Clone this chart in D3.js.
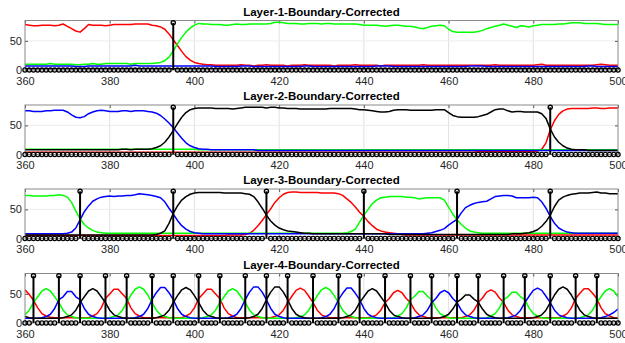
<!DOCTYPE html>
<html>
<head>
<meta charset="utf-8">
<script src="https://cdn.jsdelivr.net/npm/d3@7"></script>
<style>
  body { margin: 0; background: #fff; }
  svg { display: block; font-family: "Liberation Sans", Arial, Helvetica, sans-serif; }
</style>
</head>
<body>
<svg id="chart" width="625" height="343"></svg>
<script>
// sample positions 360..500, one value per step
const xFirst = 360;
const xLast = 500;
const xTicks = [360, 380, 400, 420, 440, 460, 480, 500];
const yTicks = [0, 50];
const yMax = 85;
const stemHeight = 81;
const titles = ['Layer-1-Boundary-Corrected', 'Layer-2-Boundary-Corrected',
                'Layer-3-Boundary-Corrected', 'Layer-4-Boundary-Corrected'];

// ---- layer 1 ----
const l1Red = [
  78,77,76,76,77,77,77,76,77,79, 75,71,67,65,71,78,77,77,77,76,
  77,78,78,78,78,78,79,79,79,79, 77,76,74,70,62,52,42,32,23,17,
  13,11,10,9,9,8,8,8,8,8, 8,9,8,8,7,8,8,9,8,8,
  8,8,7,8,8,8,9,8,8,8, 8,8,8,7,8,8,8,8,9,8,
  8,8,8,8,7,8,8,8,8,8, 8,8,8,8,9,8,8,8,8,8,
  8,8,8,8,8,8,8,8,8,8, 8,9,8,8,8,8,8,8,8,8,
  8,9,10,8,8,8,8,8,8,8, 8,8,8,8,8,9,10,9,8,8,
  8];
const l1Green = [
  10,10,10,10,10,10,11,10,10,10, 10,10,9,9,10,10,11,10,10,11,
  11,11,11,11,11,10,11,11,11,11, 11,12,13,16,22,33,45,56,65,72,
  77,80,79,79,78,78,78,77,77,78, 79,78,78,79,79,79,79,79,80,82,
  82,81,80,80,80,79,79,80,80,80, 79,80,80,79,79,79,79,79,79,78,
  77,77,77,77,76,75,76,77,77,76, 75,75,74,72,71,73,75,76,77,76,
  70,66,65,65,65,65,65,66,68,71, 73,75,77,79,77,75,73,76,75,74,
  76,77,78,78,78,78,79,79,80,81, 81,81,80,80,80,80,79,78,78,78,
  78];
const l1Blue = [
  7,7,7,7,7,7,7,7,7,7, 7,7,6,6,6,7,7,7,7,7,
  7,7,7,7,7,7,8,7,7,7, 7,7,7,7,7,7,7,7,7,7,
  7,7,7,7,7,6,6,6,6,6, 6,7,7,7,6,6,6,6,6,6,
  6,6,6,6,6,6,7,7,6,6, 6,6,6,6,6,6,6,6,6,6,
  6,6,6,7,7,7,7,6,6,6, 6,6,6,6,6,6,6,6,6,6,
  6,6,6,6,6,7,7,7,7,6, 6,6,6,6,6,6,6,6,6,6,
  6,6,6,6,6,6,6,6,6,6, 6,6,6,7,7,6,6,6,6,6,
  6];
const l1Black = [
  2,2,2,2,2,2,2,2,2,2, 2,2,2,2,2,2,2,2,2,2,
  2,2,2,2,2,2,2,2,2,2, 2,2,2,2,2,2,2,2,2,2,
  2,2,2,2,2,2,2,2,2,2, 2,2,2,2,2,2,2,2,2,2,
  2,2,2,2,2,2,2,2,2,2, 2,2,2,2,2,2,2,2,2,2,
  2,2,2,2,2,2,2,2,2,2, 2,2,2,2,2,2,2,2,2,2,
  2,2,2,2,2,2,2,2,2,2, 2,2,2,2,2,2,2,2,2,2,
  2,2,2,2,2,2,2,2,2,2, 2,2,2,2,2,2,2,2,2,2,
  2];
const l1Bounds = [395];

// ---- layer 2 ----
const l2Red = [
  4,4,4,4,4,4,4,4,4,4, 4,4,4,4,4,4,4,4,4,4,
  4,4,4,4,4,4,4,4,4,4, 4,4,4,4,4,4,4,4,4,4,
  4,4,4,4,4,4,4,4,4,4, 4,4,4,4,4,4,4,4,4,4,
  4,4,4,4,4,4,4,4,4,4, 4,4,4,4,4,4,4,4,4,4,
  4,4,4,4,4,4,4,4,4,4, 4,4,4,4,4,4,4,4,4,4,
  4,4,4,4,4,4,4,5,5,5, 5,5,5,5,5,5,5,5,5,5,
  5,6,9,20,42,58,69,75,78,79, 79,79,79,79,80,80,79,79,80,80,
  80];
const l2Green = [
  9,9,9,9,9,9,9,9,9,9, 9,9,9,9,9,9,9,9,9,9,
  9,9,9,9,9,9,9,9,9,9, 9,9,9,9,9,9,9,9,9,9,
  9,8,8,8,8,8,8,8,8,8, 8,8,8,8,8,8,8,8,8,8,
  8,8,8,8,8,8,8,8,8,8, 8,8,8,8,8,8,8,8,8,8,
  8,8,8,8,8,8,8,8,8,8, 8,8,8,8,8,8,8,8,8,8,
  8,8,8,8,8,8,8,8,8,8, 8,8,8,8,8,8,8,8,8,8,
  8,8,8,8,8,8,8,8,8,8, 8,8,8,8,8,8,8,8,8,8,
  8];
const l2Blue = [
  75,75,74,74,74,75,75,76,76,76, 73,68,64,63,65,70,73,75,76,75,
  74,74,74,75,75,74,75,75,75,74, 73,71,67,61,54,46,37,28,20,15,
  12,10,9,9,8,8,8,8,8,8, 8,8,8,8,8,7,7,7,7,7,
  7,7,7,7,7,7,7,7,7,7, 7,7,7,7,7,7,7,7,7,7,
  7,7,7,7,7,7,7,7,7,7, 7,7,7,7,7,7,7,7,7,7,
  7,7,7,7,7,7,7,7,7,7, 7,7,7,7,7,7,7,7,7,7,
  7,7,7,7,7,7,7,7,7,7, 7,7,7,7,7,7,7,7,7,7,
  7];
const l2Black = [
  8,8,8,8,8,8,8,8,8,8, 8,8,8,8,8,8,8,8,8,8,
  8,8,8,9,9,8,9,9,9,9, 10,12,15,21,30,41,53,64,72,77,
  79,80,80,80,80,79,79,79,79,78, 79,80,81,81,81,81,81,80,81,81,
  80,80,79,79,79,78,78,78,78,78, 78,78,79,79,79,79,79,79,78,77,
  77,76,75,74,73,73,74,76,77,77, 77,76,76,76,76,76,76,77,77,77,
  72,67,65,64,64,64,64,65,67,69, 73,77,78,78,75,73,74,74,73,73,
  73,73,70,62,44,30,21,15,11,9, 8,8,8,7,7,7,7,7,7,7,
  7];
const l2Bounds = [395, 484];

// ---- layer 3 ----
const l3Red = [
  5,5,5,5,5,5,5,5,5,5, 5,5,5,5,5,5,5,5,5,5,
  5,5,5,5,5,5,5,5,5,5, 5,5,5,5,5,5,5,5,5,5,
  5,5,5,5,5,5,5,5,6,6, 6,6,7,9,14,22,31,41,51,62,
  70,76,79,80,80,79,79,79,79,79, 78,78,78,78,77,74,68,62,54,45,
  38,29,22,16,13,11,10,9,8,7, 6,6,6,6,6,6,6,6,6,6,
  6,6,6,6,6,6,6,6,6,6, 6,6,6,6,6,6,6,6,6,6,
  6,6,6,6,6,6,6,6,6,6, 6,6,6,6,6,6,6,6,6,6,
  6];
const l3Green = [
  74,74,73,73,73,73,74,74,75,74, 71,62,47,34,24,18,14,11,10,9,
  9,9,9,9,9,9,9,9,9,9, 9,9,9,9,9,9,9,9,9,9,
  9,9,9,9,9,9,9,9,9,9, 9,9,9,9,9,9,9,9,9,9,
  9,9,9,9,9,9,9,9,9,9, 9,9,9,9,9,9,10,12,16,28,
  40,50,60,66,70,71,72,72,72,72, 71,71,70,68,69,70,70,70,70,66,
  54,42,32,24,18,13,11,10,9,9, 9,9,9,9,9,9,9,9,9,9,
  9,9,9,9,9,9,9,9,9,9, 9,9,9,9,9,9,9,9,9,9,
  9];
const l3Blue = [
  8,8,8,8,8,8,8,8,8,8, 9,11,18,32,46,56,64,68,71,72,
  73,72,73,73,74,74,75,77,76,75, 74,72,70,63,52,42,31,22,16,12,
  10,9,8,8,8,8,8,8,8,8, 8,8,8,8,8,8,8,8,8,8,
  8,8,8,8,8,8,8,8,8,8, 8,8,8,8,8,8,8,8,8,8,
  8,8,8,8,8,8,8,8,8,8, 8,8,8,8,8,9,10,12,14,17,
  23,28,33,44,53,57,60,62,63,64, 68,72,73,74,74,73,70,70,70,70,
  71,70,63,52,38,26,18,14,11,10, 9,9,9,9,9,9,9,9,9,9,
  9];
const l3Black = [
  6,6,6,6,6,6,6,6,6,6, 6,6,6,6,6,6,6,6,6,6,
  6,6,6,6,6,6,6,6,6,6, 6,7,9,13,26,43,56,66,72,76,
  78,79,79,79,79,79,79,78,78,78, 78,78,77,76,72,63,52,40,30,23,
  18,15,13,12,11,10,9,9,8,8, 8,8,8,8,8,8,8,8,8,8,
  8,8,8,8,8,8,7,7,7,7, 7,7,7,7,7,7,7,7,7,7,
  7,7,7,7,7,7,7,7,7,7, 7,7,7,7,7,8,8,8,9,10,
  12,15,21,29,40,55,66,71,74,76, 77,78,78,78,79,80,78,78,77,77,
  77];
const l3Bounds = [373, 395, 417, 440, 462, 484];

// ---- layer 4 ----
const l4Red = [
  57,49,39,26,16,12,10,9,9,9, 9,9,9,9,9,9,12,16,26,42,
  50,58,58,50,42,26,16,12,9,9, 9,9,9,9,9,9,9,9,12,16,
  26,42,50,58,58,50,42,26,16,12, 9,9,9,9,9,9,9,9,9,11,
  14,22,35,46,56,60,56,46,35,22, 14,11,9,9,9,9,9,9,9,9,
  9,9,11,14,22,35,42,52,56,52, 42,35,22,14,11,9,9,9,9,9,
  9,9,9,9,11,14,22,35,43,53, 57,53,43,35,22,14,11,9,9,9,
  9,9,9,9,9,9,9,12,16,26, 42,51,59,59,51,42,26,16,12,9,
  8];
const l4Green = [
  14,22,35,45,55,59,55,45,35,22, 14,11,9,8,8,8,8,8,8,8,
  9,11,14,22,35,48,58,62,58,48, 35,22,14,11,9,8,8,8,8,8,
  8,8,9,11,14,22,35,45,55,59, 55,45,35,22,14,11,9,8,8,8,
  8,8,8,8,9,11,14,22,35,47, 57,61,57,47,35,22,14,11,9,8,
  8,8,8,8,8,8,8,9,12,16, 26,40,46,54,54,46,40,26,16,12,
  9,8,8,8,8,8,8,8,8,9, 12,16,26,40,45,53,53,45,40,26,
  16,12,9,8,8,8,8,8,8,8, 8,9,11,14,22,35,45,55,59,55,
  45];
const l4Blue = [
  8,8,8,8,9,11,15,25,40,45, 54,54,45,40,25,15,11,9,8,8,
  8,8,8,8,8,8,9,11,15,25, 40,52,61,61,52,40,25,15,11,9,
  8,8,8,8,8,8,8,8,9,11, 15,25,40,53,62,62,53,40,25,15,
  11,9,8,8,8,8,8,8,8,8, 9,11,15,25,40,51,60,60,51,40,
  25,15,11,9,8,8,8,8,8,8, 8,8,9,11,14,22,35,42,52,56,
  52,42,35,22,14,11,9,8,8,8, 8,8,8,8,9,11,14,22,35,46,
  56,60,56,46,35,22,14,11,9,8, 8,8,8,8,8,8,9,11,14,18,
  24];
const l4Black = [
  11,9,8,8,8,8,8,8,8,9, 11,14,22,35,45,55,59,55,45,35,
  22,14,11,9,8,8,8,8,8,8, 8,9,11,14,22,35,47,57,61,57,
  47,35,22,14,11,9,8,8,8,8, 8,8,8,9,11,15,25,40,53,62,
  62,53,40,25,15,11,9,8,8,8, 8,8,8,8,8,9,11,14,22,35,
  45,55,59,55,45,35,22,14,11,9, 8,8,8,8,8,8,8,8,9,11,
  15,24,36,41,48,48,41,36,24,15, 11,9,8,8,8,8,8,8,8,8,
  9,11,14,22,35,48,58,62,58,48, 35,22,14,11,9,8,8,8,8,8,
  8];
const l4Bounds = [362, 368, 373, 379, 384, 390, 395, 401, 406, 412, 417, 422, 428,
                  434, 439, 445, 451, 456, 462, 467, 473, 478, 484, 490, 495];

const layers = [
  { title: titles[0], red: l1Red, green: l1Green, blue: l1Blue, black: l1Black, bounds: l1Bounds },
  { title: titles[1], red: l2Red, green: l2Green, blue: l2Blue, black: l2Black, bounds: l2Bounds },
  { title: titles[2], red: l3Red, green: l3Green, blue: l3Blue, black: l3Black, bounds: l3Bounds },
  { title: titles[3], red: l4Red, green: l4Green, blue: l4Blue, black: l4Black, bounds: l4Bounds }
];

const xs = d3.range(xFirst, xLast + 1);
const svg = d3.select('#chart');
const left = 25, right = 618, plotH = 49.5;
const tops = [20.5, 105, 189, 273.5];

const x = d3.scaleLinear().domain([xFirst, xLast]).range([left, right]);

layers.forEach((layer, k) => {
  const top = tops[k];
  const y = d3.scaleLinear().domain([0, yMax]).range([top + plotH, top]);
  const g = svg.append('g');

  g.append('clipPath').attr('id', 'clip' + k)
    .append('rect').attr('x', left).attr('y', top).attr('width', right - left).attr('height', plotH);

  // grid
  g.append('g').selectAll('line').data(xTicks.slice(1, -1)).join('line')
    .attr('x1', d => x(d)).attr('x2', d => x(d))
    .attr('y1', top).attr('y2', top + plotH)
    .attr('stroke', '#e2e2e2').attr('stroke-width', 1);
  g.append('g').selectAll('line').data(yTicks.filter(d => d > 0)).join('line')
    .attr('x1', left).attr('x2', right)
    .attr('y1', d => y(d)).attr('y2', d => y(d))
    .attr('stroke', '#ececec').attr('stroke-width', 1);

  // axes (ticks point inward)
  const bottomAxis = g.append('g').attr('transform', `translate(0,${top + plotH})`)
    .call(d3.axisBottom(x).tickValues(xTicks).tickSizeInner(-3).tickSizeOuter(0).tickPadding(7));
  const leftAxis = g.append('g').attr('transform', `translate(${left},0)`)
    .call(d3.axisLeft(y).tickValues(yTicks).tickSizeInner(-3).tickSizeOuter(0).tickPadding(3));
  const topAxis = g.append('g').attr('transform', `translate(0,${top})`)
    .call(d3.axisTop(x).tickValues(xTicks).tickSizeInner(-3).tickSizeOuter(0).tickFormat(''));
  const rightAxis = g.append('g').attr('transform', `translate(${right},0)`)
    .call(d3.axisRight(y).tickValues(yTicks).tickSizeInner(-3).tickSizeOuter(0).tickFormat(''));
  [bottomAxis, leftAxis, topAxis, rightAxis].forEach(a => {
    a.select('.domain').remove();
    a.selectAll('line').attr('stroke', '#555');
    a.selectAll('text').attr('fill', '#262626').style('font-size', '11px');
  });

  // lines
  const line = d3.line().x((d, i) => x(xs[i])).y(d => y(d));
  const lines = g.append('g').attr('clip-path', `url(#clip${k})`);
  [['#ff0000', layer.red], ['#00ff00', layer.green], ['#0000ff', layer.blue], ['#000000', layer.black]]
    .forEach(([c, vals]) => {
      lines.append('path').datum(vals)
        .attr('d', line).attr('fill', 'none')
        .attr('stroke', c).attr('stroke-width', 1.5).attr('stroke-linejoin', 'round');
    });

  // box
  g.append('rect').attr('x', left).attr('y', top).attr('width', right - left).attr('height', plotH)
    .attr('fill', 'none').attr('stroke', '#8a8a8a').attr('stroke-width', 1);

  // boundary stems
  const stems = xs.map(v => ({ x: v, v: layer.bounds.includes(v) ? stemHeight : 0 }));
  g.append('g').selectAll('line').data(stems.filter(d => d.v > 0)).join('line')
    .attr('x1', d => x(d.x)).attr('x2', d => x(d.x))
    .attr('y1', y(0)).attr('y2', d => y(d.v))
    .attr('stroke', '#000').attr('stroke-width', 2);
  g.append('g').selectAll('circle').data(stems).join('circle')
    .attr('cx', d => x(d.x)).attr('cy', d => y(d.v)).attr('r', 2.1)
    .attr('fill', 'none').attr('stroke', '#000').attr('stroke-width', 1.3);

  // title
  g.append('text').attr('x', (left + right) / 2).attr('y', top - 4.8)
    .attr('text-anchor', 'middle').style('font-size', '11.5px').style('font-weight', 'bold')
    .attr('fill', '#000').text(layer.title);
});
</script>
</body>
</html>
